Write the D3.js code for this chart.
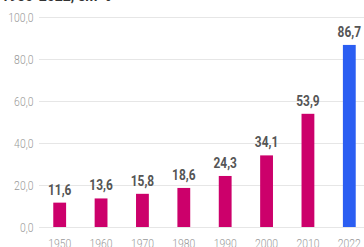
<!DOCTYPE html>
<html>
<head>
<meta charset="utf-8">
<script src="https://cdn.jsdelivr.net/npm/d3@7"></script>
<style>
  body { margin: 0; background: #fff; overflow: hidden; }
  text { font-family: "Roboto", sans-serif; }
</style>
</head>
<body>
<div id="vis"></div>
<script>
const anos = ["1950", "1960", "1970", "1980", "1990", "2000", "2010", "2022"];
const valores = [11.6, 13.6, 15.8, 18.6, 24.3, 34.1, 53.9, 86.7];
const ticksY = [0, 20, 40, 60, 80, 100];

const width = 364;
const height = 247;

const SVG = d3.select("#vis").append("svg")
  .attr("width", width).attr("height", height);

const fmt = v => d3.format(".1f")(v).replace(".", ",");

const x = d3.scaleBand().domain(anos).range([39, 370])
  .paddingInner(0.69).paddingOuter(0.345);
const y = d3.scaleLinear().domain([0, 100]).range([227, 17]);

// titulo cortado no topo
SVG.append("text")
  .attr("transform", "translate(1,1)")
  .attr("font-size", "14px").attr("font-weight", "bold")
  .style("fill", "#333")
  .text("1950-2022, em %");

// grade + eixo y
const eixoY = SVG.append("g").attr("transform", "translate(39,0)")
  .call(d3.axisLeft(y).tickValues(ticksY).tickSize(-(width - 39)).tickFormat(fmt).tickPadding(7));
eixoY.select(".domain").remove();
eixoY.selectAll("line").style("stroke", "#e6e6e6");
eixoY.selectAll("text").style("fill", "#999").attr("font-size", "13px")
  .attr("font-weight", 300).attr("transform", "scale(0.8,1)");

// eixo x
const eixoX = SVG.append("g").attr("transform", "translate(0,227)")
  .call(d3.axisBottom(x).tickSize(0).tickPadding(12));
eixoX.select(".domain").remove();
eixoX.selectAll("text").style("fill", "#999").attr("font-size", "13px")
  .attr("font-weight", 300).attr("transform", "scale(0.8,1)");

SVG.selectAll("rect.barra")
  .data(valores)
  .enter()
  .append("rect")
  .attr("class", "barra")
  .attr("x", (d, i) => x(anos[i]))
  .attr("y", d => y(d))
  .attr("width", x.bandwidth())
  .attr("height", d => y(0) - y(d))
  .style("fill", (d, i) => anos[i] === "2022" ? "#2b5ef2" : "#cc006b");

SVG.selectAll("text.valor")
  .data(valores)
  .enter()
  .append("text")
  .attr("class", "valor")
  .attr("transform", (d, i) => `translate(${x(anos[i]) + x.bandwidth() / 2},${y(d) - 8}) scale(0.85,1)`)
  .attr("text-anchor", "middle")
  .attr("font-size", "14px")
  .attr("font-weight", "bold")
  .style("fill", "#555")
  .text(d => fmt(d));
</script>
</body>
</html>
